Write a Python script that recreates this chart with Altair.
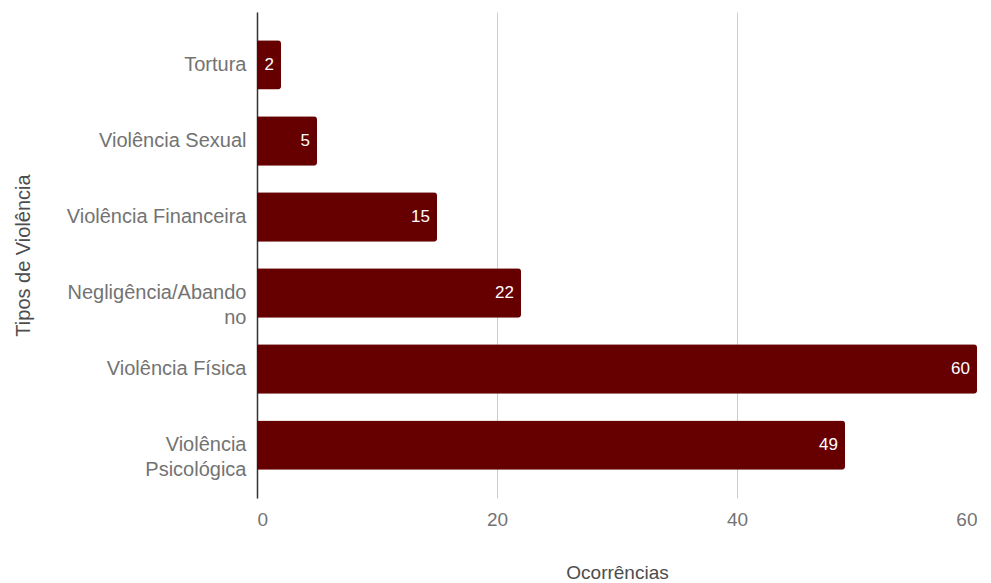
import altair as alt
import pandas as pd

categorias = ["Tortura", "Violência Sexual", "Violência Financeira",
              "Negligência/Abandono", "Violência Física", "Violência Psicológica"]
ocorrencias = [2, 5, 15, 22, 60, 49]

df = pd.DataFrame({"tipo": categorias, "n": ocorrencias})

label_expr = ("datum.label == 'Negligência/Abandono' ? ['Negligência/Abando', 'no'] : "
              "datum.label == 'Violência Psicológica' ? ['Violência', 'Psicológica'] : datum.label")

FONT = "Liberation Sans"
GRAY = "#737373"

y_enc = alt.Y("tipo:N", sort=categorias,
              scale=alt.Scale(paddingInner=0.35, paddingOuter=0.37),
              axis=alt.Axis(title="Tipos de Violência", labelExpr=label_expr,
                            labelFontSize=20, labelColor=GRAY, labelFont=FONT,
                            labelPadding=11, labelLineHeight=25, ticks=False,
                            domainColor="#333333", domainWidth=1.5,
                            titleFontSize=20, titleColor="#4d4d4d", titleFont=FONT,
                            titleFontWeight="normal", titlePadding=33))
x_enc = alt.X("n:Q", scale=alt.Scale(domain=[0, 60], nice=False),
              axis=alt.Axis(title="Ocorrências", values=[0, 20, 40, 60],
                            labelFontSize=19, labelColor=GRAY, labelFont=FONT,
                            labelPadding=12, ticks=False, domain=False,
                            grid=True, gridColor="#cccccc", gridWidth=1,
                            titleFontSize=19, titleColor="#4d4d4d", titleFont=FONT,
                            titleFontWeight="normal", titlePadding=34))

bars = alt.Chart(df).mark_bar(color="#660000", cornerRadiusEnd=3).encode(y=y_enc, x=x_enc)
text = alt.Chart(df).mark_text(align="right", baseline="middle", dx=-7, color="white",
                               fontSize=17, font=FONT).encode(
    y=alt.Y("tipo:N", sort=categorias), x="n:Q", text="n:Q")

chart = (bars + text).properties(
    width=720, height=486,
    padding={"top": 4, "left": 5, "right": 0, "bottom": 0}
).configure_view(stroke=None)

chart.save("out.html", embed_options={"renderer": "svg", "actions": False})
